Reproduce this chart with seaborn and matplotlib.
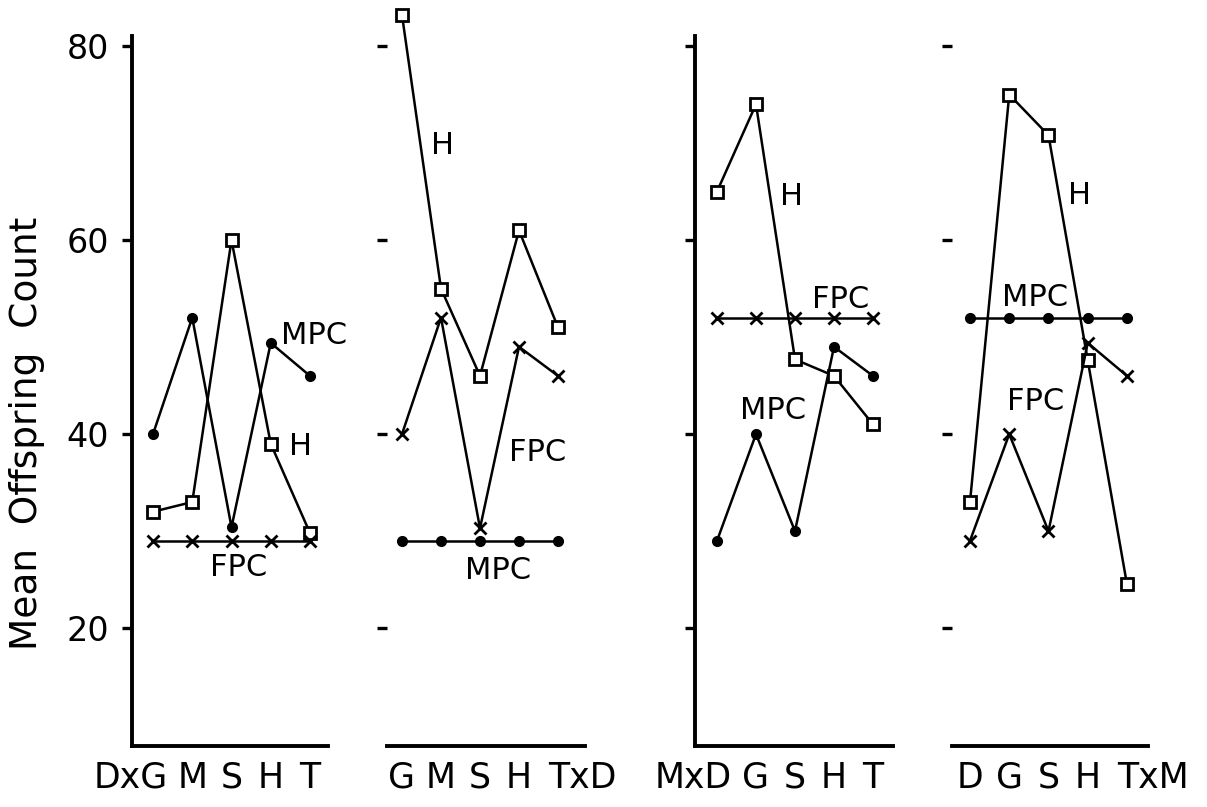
import matplotlib
matplotlib.use("Agg")
import matplotlib.pyplot as plt
import matplotlib.transforms as mtrans
import seaborn as sns
import pandas as pd

# ---------------- data ----------------
panel1_cats = ["DxG", "M", "S", "H", "T"]
panel1_H = [32, 33, 60, 39, 29.8]
panel1_MPC = [40, 52, 30.4, 49.4, 46]
panel1_FPC = [29, 29, 29, 29, 29]

panel2_cats = ["G", "M", "S", "H", "TxD"]
panel2_H = [83.2, 55, 46, 61, 51]
panel2_MPC = [29, 29, 29, 29, 29]
panel2_FPC = [40, 52, 30.3, 49, 46]

panel3_cats = ["MxD", "G", "S", "H", "T"]
panel3_H = [65, 74, 47.7, 46, 41]
panel3_MPC = [29, 40, 30, 49, 46]
panel3_FPC = [52, 52, 52, 52, 52]

panel4_cats = ["D", "G", "S", "H", "TxM"]
panel4_H = [33, 75, 70.8, 47.6, 24.5]
panel4_MPC = [52, 52, 52, 52, 52]
panel4_FPC = [29, 40, 30, 49.4, 46]

y_ticks = [20, 40, 60, 80]
y_label = "Mean  Offspring  Count"

# ---------------- style ----------------
sns.set_style("white")
plt.rcParams["font.family"] = ["DejaVu Sans"]
plt.rcParams["text.color"] = "black"
plt.rcParams["xtick.color"] = "black"
plt.rcParams["ytick.color"] = "black"
plt.rcParams["axes.labelcolor"] = "black"

W, H = 1207, 807
fig = plt.figure(figsize=(W / 100, H / 100), dpi=100)

ymin, ymax = 7.85, 84.5
bot_px, top_px = 746, 2.4

panels = [
    dict(cats=panel1_cats, H=panel1_H, MPC=panel1_MPC, FPC=panel1_FPC,
         left=132, right=328, x0=153, sp=39.25, leftspine=True, ticklabels=True,
         labels=[("MPC", 4.10, 50.2), ("H", 3.77, 38.7), ("FPC", 2.17, 26.3)]),
    dict(cats=panel2_cats, H=panel2_H, MPC=panel2_MPC, FPC=panel2_FPC,
         left=387, right=585, x0=402, sp=39.0, leftspine=False, ticklabels=False,
         labels=[("H", 1.03, 69.8), ("FPC", 3.49, 38.1), ("MPC", 2.46, 25.9)]),
    dict(cats=panel3_cats, H=panel3_H, MPC=panel3_MPC, FPC=panel3_FPC,
         left=695, right=893, x0=717, sp=39.0, leftspine=True, ticklabels=False,
         labels=[("H", 1.92, 64.5), ("FPC", 3.18, 53.9), ("MPC", 1.44, 42.4)]),
    dict(cats=panel4_cats, H=panel4_H, MPC=panel4_MPC, FPC=panel4_FPC,
         left=952, right=1148, x0=970, sp=39.25, leftspine=False, ticklabels=False,
         labels=[("H", 2.80, 64.6), ("MPC", 1.66, 54.1), ("FPC", 1.66, 43.4)]),
]

series_style = {
    "H": dict(marker="s", markersize=8.5, markerfacecolor="white"),
    "MPC": dict(marker="o", markersize=6, markerfacecolor="black"),
    "FPC": dict(marker="x", markersize=9, markerfacecolor="black"),
}

renderer = fig.canvas.get_renderer()
XT_SIZE = 25


def char_width_px(ch):
    t = fig.text(0, 0, ch, fontsize=XT_SIZE)
    w = t.get_window_extent(renderer=renderer).width
    t.remove()
    return w


for p in panels:
    ax = fig.add_axes([p["left"] / W, 1 - bot_px / H,
                       (p["right"] - p["left"]) / W, (bot_px - top_px) / H])
    xl = ((p["left"] - p["x0"]) / p["sp"], (p["right"] - p["x0"]) / p["sp"])
    n = len(p["cats"])
    for key in ["H", "FPC", "MPC"]:
        df = pd.DataFrame({"x": list(range(n)), "y": p[key]})
        st = series_style[key]
        sns.lineplot(data=df, x="x", y="y", ax=ax, color="black", linewidth=1.8,
                     marker=st["marker"], markersize=st["markersize"],
                     markerfacecolor=st["markerfacecolor"], markeredgecolor="black",
                     markeredgewidth=2.0, clip_on=False, legend=False, zorder=3)
    ax.set_xlim(*xl)
    ax.set_ylim(ymin, ymax)
    ax.set_xlabel("")
    ax.set_ylabel("")
    ax.patch.set_alpha(0)
    for s in ["top", "right"]:
        ax.spines[s].set_visible(False)
    ax.spines["bottom"].set_linewidth(2.8)
    ax.spines["bottom"].set_color("black")
    ax.spines["left"].set_linewidth(2.8)
    ax.spines["left"].set_color("black")
    ax.spines["left"].set_visible(p["leftspine"])
    ax.spines["left"].set_bounds(ymin, 81)
    ax.set_yticks(y_ticks)
    ax.set_xticks([])
    ax.tick_params(axis="y", left=True, direction="out", length=7.5, width=2.4,
                   color="black", pad=9, labelsize=24, labelleft=p["ticklabels"],
                   labelcolor="black")
    # x category labels
    yoff = (bot_px - 778) / (bot_px - top_px)
    for i, c in enumerate(p["cats"]):
        if "x" in c and i == 0:
            dx = char_width_px(c[-1]) / 2 + 1
            tr = mtrans.offset_copy(ax.get_xaxis_transform(), fig=fig, x=dx, y=0, units="dots")
            ax.text(i, yoff, c, ha="right", va="center", fontsize=XT_SIZE, transform=tr)
        elif "x" in c and i == n - 1:
            dx = -char_width_px(c[0]) / 2 + 1
            tr = mtrans.offset_copy(ax.get_xaxis_transform(), fig=fig, x=dx, y=0, units="dots")
            ax.text(i, yoff, c, ha="left", va="center", fontsize=XT_SIZE, transform=tr)
        else:
            ax.text(i, yoff, c, ha="center", va="center", fontsize=XT_SIZE,
                    transform=ax.get_xaxis_transform())
    for txt, lx, ly in p["labels"]:
        ax.text(lx, ly, txt, ha="center", va="center", fontsize=22)

fig.text(27 / W, 1 - 433 / H, y_label, rotation=90, ha="center", va="center", fontsize=27)

fig.savefig("out.png", dpi=100, facecolor="white")
